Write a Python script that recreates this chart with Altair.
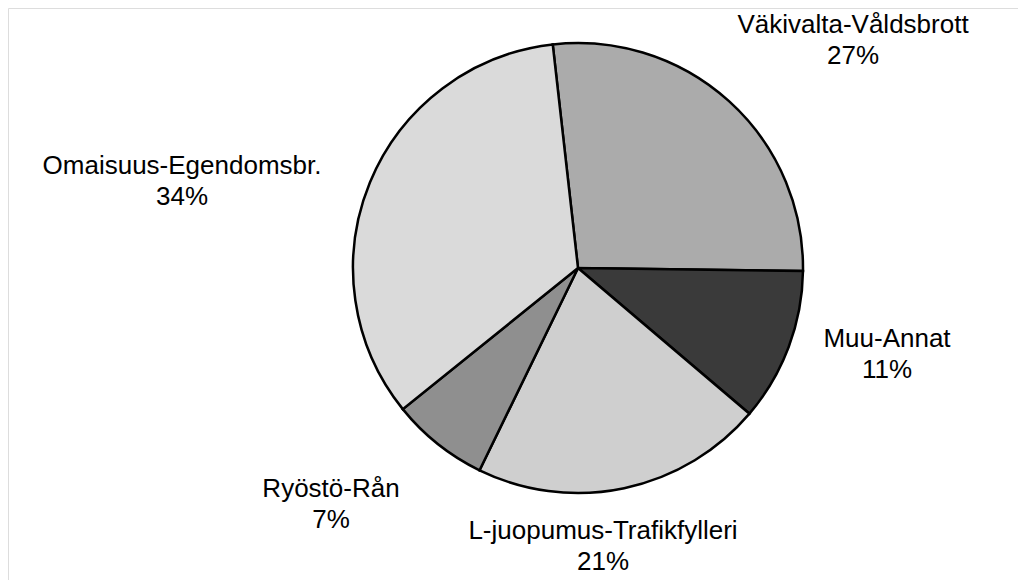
import altair as alt
import pandas as pd
import math

categories = ["Väkivalta-Våldsbrott", "Muu-Annat", "L-juopumus-Trafikfylleri", "Ryöstö-Rån", "Omaisuus-Egendomsbr."]
values = [27, 11, 21, 7, 34]
fills = ["#ababab", "#3a3a3a", "#cfcfcf", "#8f8f8f", "#dadada"]

# label anchor positions (chart pixels) for annotations
label_x = [845, 879, 595, 323, 174]
label_y = [25, 339, 531, 489, 166]

df = pd.DataFrame({
    "cat": categories,
    "value": values,
    "idx": list(range(len(categories))),
})
lab = pd.DataFrame({
    "text": [[c, f"{v}%"] for c, v in zip(categories, values)],
    "lx": label_x,
    "ly": label_y,
})

start = -6.45 * math.pi / 180

pie = alt.Chart(df).mark_arc(
    outerRadius=225, stroke="black", strokeWidth=2.5
).encode(
    theta=alt.Theta("value:Q", stack=True,
                    scale=alt.Scale(range=[start, start + 2 * math.pi])),
    color=alt.Color("cat:N", scale=alt.Scale(domain=categories, range=fills), legend=None),
    order=alt.Order("idx:Q"),
    x=alt.value(570),
    y=alt.value(260),
)

labels = alt.Chart(lab).mark_text(
    font="Liberation Sans", fontSize=26, align="center", baseline="alphabetic",
    lineHeight=31, color="black"
).encode(
    x=alt.X("lx:Q", scale=None),
    y=alt.Y("ly:Q", scale=None),
    text="text",
)

chart = alt.layer(pie, labels).properties(
    width=1010, height=572, padding=0, autosize="none"
).configure_view(stroke="transparent", strokeWidth=0).configure(background="white")

chart.save("out.html", embed_options={"renderer": "svg", "actions": False})
